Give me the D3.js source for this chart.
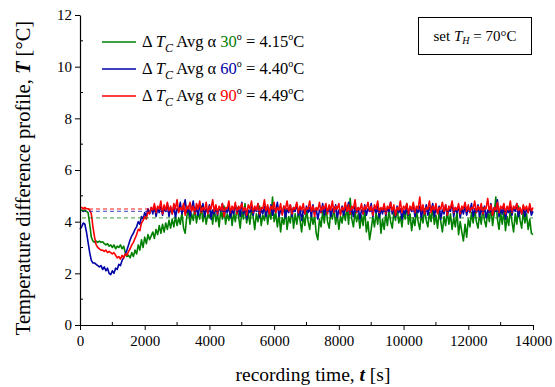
<!DOCTYPE html>
<html>
<head>
<meta charset="utf-8">
<script src="https://cdn.jsdelivr.net/npm/d3@7/dist/d3.min.js"></script>
<style>
  html, body { margin: 0; padding: 0; background: #fff; }
  svg text { font-family: "Liberation Serif", "Times New Roman", "DejaVu Serif", serif; fill: #000; }
</style>
</head>
<body>
<svg id="chart" width="555" height="387"></svg>
<script>
// Sampling grid of the recordings (seconds)
const sampleStart = 0;
const sampleStep = 50;

// Temperature difference ΔT_C for the three inclination angles (°C), one value per 50 s
const dT30 = [
  4.45, 4.45, 4.4, 4.45, 4.4, 4.35, 3.9, 3.4, 3.25, 3.2,
  3.25, 3.2, 3.25, 3.2, 3.22, 3.15, 3.1, 3.15, 3.05, 3.1,
  3.0, 3.1, 2.95, 3.05, 3.0, 3.1, 2.95, 3.05, 2.8, 2.65,
  2.7, 2.6, 2.8, 2.65, 2.9, 2.75, 3.1, 2.9, 3.3, 3.0,
  3.4, 3.15, 3.5, 3.3, 3.45, 3.6, 3.35, 3.7, 3.5, 3.85,
  3.55, 3.9, 3.6, 3.95, 3.7, 4.05, 3.75, 4.1, 3.8, 4.2,
  3.85, 4.15, 3.9, 4.35, 3.75, 3.55, 4.2, 4.45, 3.9, 4.3,
  4.05, 4.55, 3.95, 4.35, 4.1, 4.6, 4.0, 4.4, 3.9, 4.3,
  4.15,
  4.4, 3.9, 4.5, 4.0, 4.3, 3.8, 4.45, 4.1, 4.6, 3.9,
  4.3, 4.05, 4.5, 3.85, 4.35, 4.0, 4.55, 4.2, 3.75, 4.4,
  4.1, 4.7, 3.95, 4.35, 3.9, 4.5, 4.2, 3.7, 4.3, 4.0,
  4.6, 3.85, 4.25, 4.05, 4.55, 3.9, 4.4, 4.1, 4.95, 4.0,
  4.35, 3.8, 4.3, 3.6, 4.15, 3.9, 4.45, 3.7, 4.2, 3.95,
  4.5, 3.75, 4.3, 3.9, 4.4, 4.05, 3.6, 4.25, 3.85, 4.5,
  4.0, 3.7, 4.3, 3.9, 4.2, 3.55, 3.3, 4.1, 3.8, 4.4,
  3.95, 4.6, 4.0, 3.75, 4.35, 4.1, 4.55, 3.9, 4.3, 3.7,
  4.2, 3.95, 4.45, 4.05, 4.6, 3.9, 4.9, 4.1, 3.8, 4.4,
  4.0, 4.3, 3.75, 4.25, 3.85, 4.5, 3.6, 4.0, 3.3, 3.7,
  4.2, 3.8, 4.35, 3.9, 4.5, 3.55, 4.1, 3.7, 4.3, 3.85,
  4.45, 4.0, 3.75, 4.35, 4.05, 4.55, 3.95, 4.2, 3.8, 4.4,
  4.1, 4.7, 3.9, 4.3, 3.65, 4.15, 3.85, 4.45, 4.0, 3.7,
  4.3, 3.95, 4.5, 4.05, 3.8, 4.35, 4.0, 4.6, 3.9, 4.25,
  3.75, 4.4, 4.0, 3.6, 4.2, 3.85, 4.45, 3.9, 4.3, 3.7,
  4.15, 3.8, 4.4, 3.5, 4.0, 3.6, 3.25, 3.9, 3.4, 4.1,
  3.8, 4.35, 3.95, 4.5, 4.0, 3.75, 4.3, 3.9, 4.55, 4.05,
  3.8, 4.4, 4.0, 4.6, 3.85, 4.3, 4.95, 4.1, 3.7, 4.35,
  3.9, 4.45, 3.65, 4.2, 3.85, 4.5, 4.0, 3.6, 4.3, 3.9,
  4.6, 4.05, 3.75, 4.4, 3.95, 4.3, 3.7, 4.1, 3.55, 3.5
];

const dT60 = [
  3.7, 3.8, 3.95, 3.9, 3.6, 3.2, 2.8, 2.5, 2.4, 2.4,
  2.35, 2.3, 2.25, 2.3, 2.15, 2.25, 2.1, 2.2, 2.0, 1.95,
  2.1, 2.0, 2.2, 2.15, 2.35, 2.3, 2.5, 2.6, 2.75, 2.9,
  3.1, 3.3, 3.45, 3.55, 3.7, 3.8, 4.0, 3.9, 4.2, 4.1,
  4.35, 4.2, 4.5, 4.3, 4.55,
  4.3, 4.6, 4.2, 4.5, 4.35, 4.65, 4.25, 4.5, 4.4, 4.7,
  4.2, 4.55, 4.3, 4.6, 4.15, 4.5, 4.4, 4.75, 4.3, 4.55,
  4.85, 4.35, 4.6, 4.2, 4.5, 4.8, 4.3, 4.55, 4.25, 4.6,
  4.4, 4.7, 4.2, 4.5, 4.35, 4.65, 4.1, 4.45, 4.3, 4.6,
  4.25, 4.55, 4.4, 4.7, 4.2, 4.5, 4.35, 4.6, 4.15, 4.45,
  4.3, 4.65, 4.4, 4.55, 4.2, 4.75, 4.3, 4.5, 4.1, 4.45,
  4.35, 4.6, 4.25, 4.5, 4.4, 4.7, 4.15, 4.5, 4.3, 4.6,
  4.2, 4.55, 4.35, 4.65, 4.25, 4.5, 4.4, 4.75, 4.2, 4.45,
  4.3, 4.6, 4.15, 4.5, 4.35, 4.65, 4.2, 4.55, 4.4, 4.7,
  4.25, 4.5, 4.05, 4.45, 4.3, 4.6, 4.35, 4.55, 4.2, 4.65,
  4.3, 4.5, 4.1, 4.45, 4.35, 4.7, 4.25, 4.55, 4.4, 4.6,
  4.2, 4.5, 4.35, 4.65, 4.15, 4.45, 4.3, 4.6, 4.25, 4.55,
  4.4, 4.75, 4.3, 4.5, 4.2, 4.6, 4.35, 4.55, 4.1, 4.45,
  4.3, 4.65, 4.25, 4.5, 4.4, 4.7, 4.2, 4.55, 4.35, 4.6,
  4.15, 4.5, 4.3, 4.65, 4.25, 4.5, 4.4, 4.75, 4.3, 4.55,
  4.2, 4.6, 4.35, 4.5, 4.1, 4.45, 4.3, 4.65, 4.25, 4.55,
  4.4, 4.7, 4.2, 4.5, 4.35, 4.6, 4.15, 4.5, 4.3, 4.65,
  4.25, 4.55, 4.4, 4.7, 4.2, 4.5, 4.35, 4.6, 4.1, 4.45,
  4.3, 4.65, 4.25, 4.5, 4.4, 4.75, 4.2, 4.55, 4.35, 4.6,
  4.15, 4.5, 4.3, 4.6, 4.25, 4.55, 4.4, 4.7, 4.2, 4.5,
  4.35, 4.65, 4.2, 4.5, 4.3, 4.6, 4.15, 4.45, 4.35, 4.7,
  4.25, 4.55, 4.4, 4.85, 4.2, 4.5, 4.3, 4.65, 4.1, 4.45,
  4.35, 4.6, 4.25, 4.55, 4.4, 4.7, 4.2, 4.5, 4.3, 4.6,
  4.2, 4.5, 4.35, 4.6, 4.25, 4.4
];

const dT90 = [
  4.55, 4.55, 4.5, 4.55, 4.5, 4.5, 4.45, 4.3, 3.8, 3.4,
  3.1, 3.0, 2.95, 2.9, 2.9, 2.85, 2.9, 2.8, 2.85, 2.8,
  2.75, 2.8, 2.7, 2.6, 2.65, 2.55, 2.7, 2.6, 2.75, 2.7,
  2.85, 2.95, 3.1, 3.2, 3.35, 3.5, 3.7, 3.65, 3.95, 4.05,
  4.2, 4.1, 4.4, 4.3, 4.55,
  4.45, 4.7, 4.35, 4.6, 4.5, 4.8, 4.3, 4.65, 4.45, 4.75,
  4.4, 4.6, 4.3, 4.7, 4.5, 4.85, 4.35, 4.55, 4.45, 4.7,
  4.25, 4.6, 4.5, 4.75, 4.4, 4.6, 4.3, 4.7, 4.5, 4.8,
  4.35, 4.55, 4.45, 4.75, 4.3, 4.6, 4.5, 4.85, 4.4, 4.65,
  4.3, 4.6, 4.45, 4.7, 4.2, 4.55, 4.5, 4.8, 4.35, 4.6,
  4.45, 4.75, 4.3, 4.6, 4.5, 4.7, 4.4, 4.55, 4.25, 4.65,
  4.5, 4.8, 4.35, 4.6, 4.45, 4.7, 4.3, 4.55, 4.5, 4.85,
  4.4, 4.65, 4.3, 4.6, 4.5, 4.75, 4.35, 4.55, 4.45, 4.7,
  4.25, 4.6, 4.5, 4.8, 4.4, 4.65, 4.3, 4.55, 4.5, 4.75,
  4.35, 4.6, 4.45, 4.7, 4.3, 4.55, 4.5, 4.8, 4.4, 4.6,
  4.2, 4.55, 4.45, 4.75, 4.35, 4.6, 4.5, 4.7, 4.3, 4.65,
  4.45, 4.8, 4.35, 4.6, 4.5, 4.7, 4.25, 4.55, 4.45, 4.75,
  4.4, 4.65, 4.3, 4.6, 4.5, 4.85, 4.35, 4.55, 4.45, 4.7,
  4.3, 4.6, 4.5, 4.75, 4.4, 4.6, 4.25, 4.65, 4.5, 4.8,
  4.35, 4.55, 4.45, 4.7, 4.3, 4.6, 4.5, 4.75, 4.4, 4.65,
  4.25, 4.55, 4.45, 4.8, 4.35, 4.6, 4.5, 4.7, 4.3, 4.6,
  4.45, 4.75, 4.35, 4.6, 4.5, 4.95, 4.4, 4.65, 4.3, 4.55,
  4.5, 4.8, 4.35, 4.6, 4.45, 4.7, 4.3, 4.55, 4.5, 4.75,
  4.4, 4.65, 4.25, 4.6, 4.5, 4.8, 4.35, 4.55, 4.45, 4.7,
  4.3, 4.6, 4.5, 4.75, 4.4, 4.65, 4.35, 4.55, 4.5, 4.8,
  4.35, 4.6, 4.45, 4.7, 4.3, 4.55, 4.5, 4.9, 4.4, 4.65,
  4.25, 4.55, 4.45, 4.75, 4.35, 4.6, 4.5, 4.7, 4.3, 4.6,
  4.45, 4.8, 4.35, 4.6, 4.5, 4.7, 4.4, 4.55, 4.3, 4.65,
  4.45, 4.6, 4.35, 4.7, 4.4, 4.55
];

// Series meta: angle label, stated average and colour
const angles = ["30", "60", "90"];
const averages = [4.15, 4.40, 4.49];
const colors = ["#008000", "#0000a8", "#ff0000"];
const seriesValues = [dT30, dT60, dT90];

// Axis ticks
const xTicks = [0, 2000, 4000, 6000, 8000, 10000, 12000, 14000];
const xMinorTicks = [1000, 3000, 5000, 7000, 9000, 11000, 13000];
const yTicks = [0, 2, 4, 6, 8, 10, 12];
const yMinorTicks = [1, 3, 5, 7, 9, 11];

const serif = '"Liberation Serif", "Times New Roman", "DejaVu Serif", serif';
const svg = d3.select("#chart").attr("font-family", serif);
const x = d3.scaleLinear().domain([0, 14000]).range([80, 533]);
const y = d3.scaleLinear().domain([0, 12]).range([325, 15]);

const line = d3.line()
  .x((d, i) => x(sampleStart + i * sampleStep))
  .y(d => y(d));

// Data traces
const traces = svg.append("g");
seriesValues.forEach((vals, k) => {
  traces.append("path")
    .datum(vals)
    .attr("d", line)
    .attr("fill", "none")
    .attr("stroke", colors[k])
    .attr("stroke-width", 1.6)
    .attr("stroke-linejoin", "round");
});

// Dashed average lines
averages.forEach((v, k) => {
  svg.append("line")
    .attr("x1", x(0) + 2).attr("x2", x(14000))
    .attr("y1", y(v)).attr("y2", y(v))
    .attr("stroke", colors[k])
    .attr("stroke-opacity", 0.6)
    .attr("stroke-width", 1.3)
    .attr("stroke-dasharray", "4,3");
});

// Axes
const xAxis = svg.append("g")
  .attr("transform", `translate(0,${y(0)})`)
  .call(d3.axisBottom(x).tickValues(xTicks).tickSize(5).tickSizeOuter(0).tickPadding(5).tickFormat(d3.format("d")));
xAxis.append("g").selectAll("line").data(xMinorTicks).join("line")
  .attr("x1", d => x(d)).attr("x2", d => x(d))
  .attr("y1", 0).attr("y2", -3).attr("stroke", "#000");

const yAxis = svg.append("g")
  .attr("transform", `translate(${x(0)},0)`)
  .call(d3.axisLeft(y).tickValues(yTicks).tickSize(5).tickSizeOuter(0).tickPadding(3));
yAxis.append("g").selectAll("line").data(yMinorTicks).join("line")
  .attr("y1", d => y(d)).attr("y2", d => y(d))
  .attr("x1", 0).attr("x2", 3).attr("stroke", "#000");

[xAxis, yAxis].forEach(a => {
  a.attr("font-family", serif).attr("font-size", 15);
  a.select(".domain").attr("stroke", "#000").attr("stroke-width", 1.2);
  a.selectAll(".tick line").attr("stroke", "#000");
});

// Axis titles
svg.append("text")
  .attr("x", 313).attr("y", 381)
  .attr("text-anchor", "middle")
  .style("font-size", "19.5px")
  .call(t => {
    t.append("tspan").text("recording time, ");
    t.append("tspan").text("t").style("font-weight", "bold").style("font-style", "italic");
    t.append("tspan").text(" [s]");
  });

svg.append("text")
  .attr("transform", "translate(30,178) rotate(-90)")
  .attr("text-anchor", "middle")
  .style("font-size", "20.5px")
  .call(t => {
    t.append("tspan").text("Temperature difference profile, ");
    t.append("tspan").text("T").style("font-weight", "bold").style("font-style", "italic");
    t.append("tspan").text(" [°C]");
  });

// Legend
const legend = svg.append("g");
angles.forEach((a, k) => {
  const ly = 42 + k * 27;
  legend.append("line")
    .attr("x1", 102).attr("x2", 136).attr("y1", ly).attr("y2", ly)
    .attr("stroke", colors[k]).attr("stroke-width", 1.4);
  const t = legend.append("text")
    .attr("x", 142).attr("y", ly + 5)
    .style("font-size", "16.5px");
  t.append("tspan").text("Δ ");
  t.append("tspan").text("T").style("font-style", "italic");
  t.append("tspan").text("C").style("font-style", "italic").style("font-size", "12px").attr("dy", 5);
  t.append("tspan").text(" Avg α ").attr("dy", -5);
  t.append("tspan").text(a).style("fill", colors[k]);
  t.append("tspan").text("o").style("font-size", "10px").attr("dy", -7);
  t.append("tspan").text(" = " + averages[k].toFixed(2)).attr("dy", 7);
  t.append("tspan").text("o").style("font-size", "10px").attr("dy", -7);
  t.append("tspan").text("C").attr("dy", 7);
});

// Set-point annotation box
svg.append("rect")
  .attr("x", 418.5).attr("y", 17.5).attr("width", 113).attr("height", 37)
  .attr("fill", "#fff").attr("stroke", "#000").attr("stroke-width", 1);
svg.append("text")
  .attr("x", 475).attr("y", 41)
  .attr("text-anchor", "middle")
  .style("font-size", "15px")
  .call(t => {
    t.append("tspan").text("set ");
    t.append("tspan").text("T").style("font-style", "italic");
    t.append("tspan").text("H").style("font-style", "italic").style("font-size", "10px").attr("dy", 3);
    t.append("tspan").text(" = 70°C").attr("dy", -3);
  });
</script>
</body>
</html>
